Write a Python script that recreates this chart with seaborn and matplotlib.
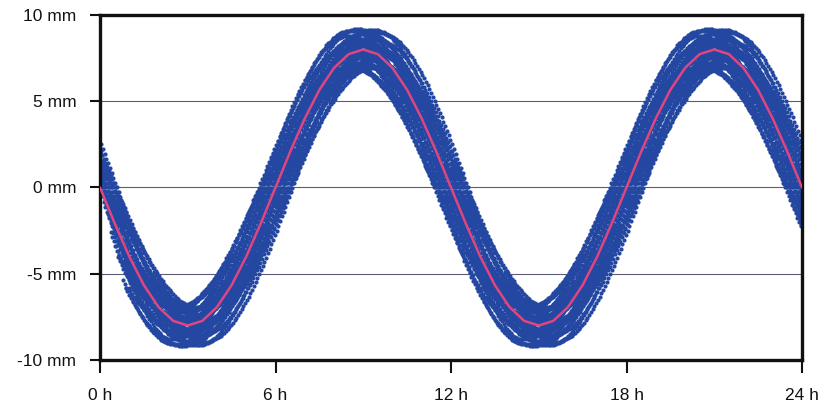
import numpy as np
import pandas as pd
import matplotlib
matplotlib.use("Agg")
import matplotlib.pyplot as plt
import seaborn as sns

# Mean tidal displacement, sampled every half hour (mm)
hours = [0.0, 0.5, 1.0, 1.5, 2.0, 2.5, 3.0, 3.5, 4.0, 4.5, 5.0, 5.5,
         6.0, 6.5, 7.0, 7.5, 8.0, 8.5, 9.0, 9.5, 10.0, 10.5, 11.0, 11.5,
         12.0, 12.5, 13.0, 13.5, 14.0, 14.5, 15.0, 15.5, 16.0, 16.5, 17.0, 17.5,
         18.0, 18.5, 19.0, 19.5, 20.0, 20.5, 21.0, 21.5, 22.0, 22.5, 23.0, 23.5,
         24.0]
mean_mm = [0.0, -2.07, -4.0, -5.66, -6.93, -7.73, -8.0, -7.73, -6.93, -5.66, -4.0, -2.07,
           0.0, 2.07, 4.0, 5.66, 6.93, 7.73, 8.0, 7.73, 6.93, 5.66, 4.0, 2.07,
           0.0, -2.07, -4.0, -5.66, -6.93, -7.73, -8.0, -7.73, -6.93, -5.66, -4.0, -2.07,
           0.0, 2.07, 4.0, 5.66, 6.93, 7.73, 8.0, 7.73, 6.93, 5.66, 4.0, 2.07,
           0.0]

# Ensemble members: amplitude (mm), phase lag (h) and first sample time (h)
member_amp_mm = [8.0, 7.3, 8.8, 7.0, 9.1, 7.6, 8.4, 6.9, 8.6, 7.8,
                 9.2, 7.2, 8.2, 8.9, 7.5, 8.5, 7.1, 9.0, 7.7, 8.3,
                 6.95, 8.7, 7.4, 9.15, 7.9, 8.1, 7.05, 8.55, 7.65, 8.95]
member_lag_h = [-0.58, -0.54, -0.50, -0.46, -0.42, -0.38, -0.34, -0.30, -0.26, -0.22,
                -0.18, -0.14, -0.10, -0.06, -0.02, 0.02, 0.06, 0.10, 0.14, 0.18,
                0.22, 0.26, 0.30, 0.34, 0.38, 0.42, 0.46, 0.50, 0.54, 0.58]
member_start_h = [0.95, 0.90, 0.85, 0.80, 0.75, 0.70, 0.60, 0.55, 0.50, 0.40,
                  0.35, 0.30, 0.20, 0.12, 0.05, 0.0, 0.0, 0.0, 0.0, 0.0,
                  0.0, 0.0, 0.0, 0.0, 0.0, 0.0, 0.0, 0.0, 0.0, 0.0]
tide_period_h = 12.0
sample_step_h = 0.06

x_ticks = [0, 6, 12, 18, 24]
x_labels = ["0 h", "6 h", "12 h", "18 h", "24 h"]
y_ticks = [-10, -5, 0, 5, 10]
y_labels = ["-10 mm", "-5 mm", "0 mm", "5 mm", "10 mm"]

rows = []
for k, (amp, lag, t0) in enumerate(zip(member_amp_mm, member_lag_h, member_start_h)):
    n = np.arange(-20, int(26 / sample_step_h))
    t = lag + n * sample_step_h
    t = t[(t >= t0) & (t <= 24.0)]
    y = -amp * np.sin(2 * np.pi * (t - lag) / tide_period_h)
    rows.append(pd.DataFrame({"hour": t, "mm": y, "member": k}))
members = pd.concat(rows, ignore_index=True)
mean_df = pd.DataFrame({"hour": hours, "mm": mean_mm})

sns.set_style("white")
plt.rcParams["font.family"] = ["Liberation Sans", "DejaVu Sans"]

fig = plt.figure(figsize=(8.22, 4.09), dpi=100)
ax = fig.add_axes([100 / 822, 1 - 360 / 409, 702 / 822, 345 / 409])

for y in [-5, 0, 5]:
    ax.axhline(y, color="#5c5c7a", lw=0.8, zorder=1)

sns.scatterplot(data=members, x="hour", y="mm", color="#2447a2", s=9,
                linewidth=0, legend=False, ax=ax, zorder=2)
sns.lineplot(data=mean_df, x="hour", y="mm", color="#e0457f", lw=1.8,
             ax=ax, zorder=3)

ax.set_xlim(0, 24)
ax.set_ylim(-10, 10)
ax.set_xticks(x_ticks)
ax.set_xticklabels(x_labels, fontsize=12.5)
ax.set_yticks(y_ticks)
ax.set_yticklabels(y_labels, fontsize=12.5)
ax.set_xlabel("")
ax.set_ylabel("")
for sp in ax.spines.values():
    sp.set_visible(True)
    sp.set_color("#111111")
    sp.set_linewidth(2.4)
ax.tick_params(axis="y", direction="out", length=7, width=1.5, color="#111111",
               pad=10, labelcolor="#111111", left=True)
ax.tick_params(axis="x", direction="out", length=9, width=1.5, color="#111111",
               pad=11, labelcolor="#111111", bottom=True)

fig.savefig("out.png", dpi=100, facecolor="white")
